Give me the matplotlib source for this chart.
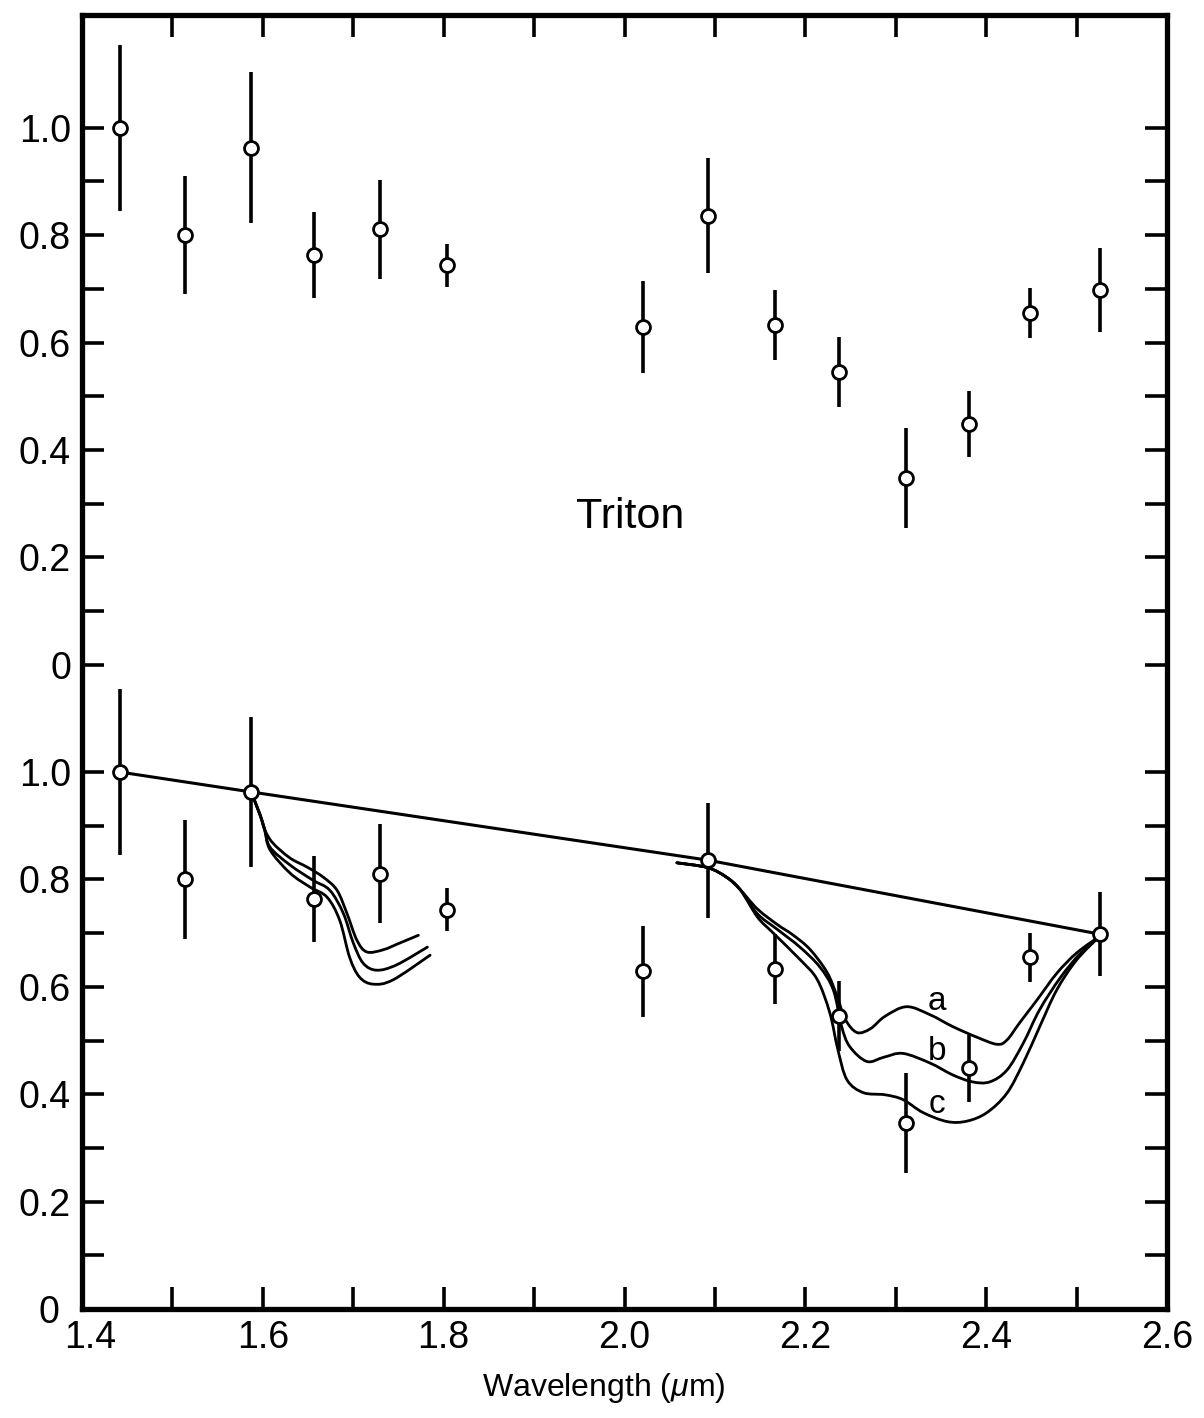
import numpy as np
import matplotlib
matplotlib.use("Agg")
import matplotlib.pyplot as plt
from matplotlib.path import Path
from matplotlib.patches import PathPatch
from matplotlib.transforms import ScaledTranslation

# ---------------- data ----------------
wavelength = [1.442, 1.514, 1.587, 1.657, 1.730, 1.804, 2.020, 2.092,
              2.166, 2.237, 2.311, 2.381, 2.448, 2.526]
albedo = [1.00, 0.80, 0.963, 0.763, 0.811, 0.744, 0.629, 0.836,
          0.633, 0.545, 0.347, 0.448, 0.655, 0.698]
albedo_err = [0.155, 0.11, 0.14, 0.08, 0.092, 0.04, 0.085, 0.107,
              0.065, 0.065, 0.093, 0.062, 0.046, 0.078]
upper_offset = 1.2

continuum_idx = [0, 2, 7, 13]

# H-band model curves (a, b, c)
h_common_x = [1.587, 1.597, 1.602]
h_common_y = [0.963, 0.920, 0.893]
h_a_x = [1.611, 1.630, 1.649, 1.667, 1.682, 1.693, 1.704, 1.715, 1.733, 1.752, 1.772]
h_a_y = [0.868, 0.840, 0.823, 0.804, 0.780, 0.737, 0.687, 0.665, 0.669, 0.682, 0.696]
h_b_x = [1.608, 1.630, 1.655, 1.674, 1.689, 1.700, 1.711, 1.726, 1.748, 1.782]
h_b_y = [0.860, 0.827, 0.799, 0.780, 0.737, 0.682, 0.644, 0.631, 0.641, 0.674]
h_c_x = [1.608, 1.630, 1.652, 1.671, 1.685, 1.696, 1.707, 1.722, 1.744, 1.785]
h_c_y = [0.855, 0.812, 0.786, 0.767, 0.724, 0.655, 0.618, 0.605, 0.613, 0.659]

# K-band model curves (a, b, c)
k_common_x = [2.058, 2.092, 2.113, 2.128]
k_common_y = [0.831, 0.822, 0.804, 0.781]
k_a_x = [2.147, 2.169, 2.186, 2.205, 2.224, 2.235, 2.244, 2.257, 2.272, 2.288,
         2.312, 2.338, 2.363, 2.390, 2.412, 2.423, 2.437, 2.456, 2.478, 2.500, 2.526]
k_a_y = [0.745, 0.716, 0.697, 0.670, 0.627, 0.583, 0.540, 0.515, 0.522, 0.545,
         0.563, 0.548, 0.526, 0.506, 0.493, 0.501, 0.533, 0.575, 0.625, 0.663, 0.695]
k_b_x = [2.147, 2.169, 2.194, 2.216, 2.231, 2.240, 2.249, 2.268, 2.287, 2.308,
         2.338, 2.363, 2.385, 2.404, 2.423, 2.441, 2.459, 2.482, 2.504, 2.526]
k_b_y = [0.736, 0.707, 0.674, 0.637, 0.594, 0.527, 0.489, 0.461, 0.469, 0.476,
         0.458, 0.436, 0.423, 0.423, 0.445, 0.495, 0.557, 0.617, 0.662, 0.695]
k_c_x = [2.147, 2.164, 2.194, 2.213, 2.227, 2.236, 2.246, 2.264, 2.288, 2.308,
         2.330, 2.357, 2.379, 2.401, 2.423, 2.441, 2.459, 2.478, 2.500, 2.526]
k_c_y = [0.730, 0.701, 0.651, 0.614, 0.552, 0.483, 0.427, 0.403, 0.399, 0.390,
         0.366, 0.349, 0.350, 0.366, 0.402, 0.458, 0.525, 0.594, 0.650, 0.695]

curve_labels = ["a", "b", "c"]
curve_label_pos = [(2.346, 0.572), (2.346, 0.480), (2.346, 0.381)]

x_ticks_major = [1.4, 1.6, 1.8, 2.0, 2.2, 2.4, 2.6]
x_tick_labels = ["1.4", "1.6", "1.8", "2.0", "2.2", "2.4", "2.6"]
x_ticks_minor = [1.5, 1.7, 1.9, 2.1, 2.3, 2.5]
y_ticks = [0.0, 0.1, 0.2, 0.3, 0.4, 0.5, 0.6, 0.7, 0.8, 0.9, 1.0,
           1.2, 1.3, 1.4, 1.5, 1.6, 1.7, 1.8, 1.9, 2.0, 2.1, 2.2]
y_tick_labels = ["0", "", "0.2", "", "0.4", "", "0.6", "", "0.8", "", "1.0",
                 "0", "", "0.2", "", "0.4", "", "0.6", "", "0.8", "", "1.0"]


def smooth_path(xs, ys):
    """Smooth cubic (Catmull-Rom style) path passing through the read points."""
    p = np.column_stack([xs, ys]).astype(float)
    ext = np.vstack([p[0], p, p[-1]])
    verts = [p[0]]
    codes = [Path.MOVETO]
    for i in range(len(p) - 1):
        p0, p1, p2, p3 = ext[i], ext[i + 1], ext[i + 2], ext[i + 3]
        c1 = p1 + (p2 - p0) / 6.0
        c2 = p2 - (p3 - p1) / 6.0
        verts += [c1, c2, p2]
        codes += [Path.CURVE4] * 3
    return Path(verts, codes)


# ---------------- plot ----------------
plt.rcParams["mathtext.fontset"] = "custom"
plt.rcParams["mathtext.rm"] = "Liberation Sans"
plt.rcParams["mathtext.it"] = "Liberation Sans:italic"

W, H = 1204, 1418
fig = plt.figure(figsize=(W / 100, H / 100), dpi=100)
ax = fig.add_axes([82 / W, 109 / H, (1167 - 82) / W, (1309 - 15) / H])
ax.set_xlim(1.4, 2.6)
ax.set_ylim(0, 2.41)

lw_curve = 2.0
# continuum line
ax.plot([wavelength[i] for i in continuum_idx], [albedo[i] for i in continuum_idx],
        color="black", lw=2.2, zorder=3)

for cx, cy, curves in [
    (h_common_x, h_common_y, [(h_a_x, h_a_y), (h_b_x, h_b_y), (h_c_x, h_c_y)]),
    (k_common_x, k_common_y, [(k_a_x, k_a_y), (k_b_x, k_b_y), (k_c_x, k_c_y)]),
]:
    for xs, ys in curves:
        path = smooth_path(cx + xs, cy + ys)
        ax.add_patch(PathPatch(path, facecolor="none", edgecolor="black",
                               lw=lw_curve, zorder=3, capstyle="round"))

# data points, both panels
for off in (0.0, upper_offset):
    ax.errorbar(wavelength, [a + off for a in albedo], yerr=albedo_err, fmt="o",
                mfc="white", mec="black", ms=10, mew=2.0, ecolor="black",
                elinewidth=2.6, capsize=0, zorder=5)

for lab, (lx, ly) in zip(curve_labels, curve_label_pos):
    ax.text(lx, ly, lab, fontsize=24, family=["Liberation Sans", "DejaVu Sans"],
            ha="center", va="center", zorder=6)

ax.text(2.006, 1.475, "Triton", fontsize=31, family=["Liberation Sans", "DejaVu Sans"],
        ha="center", va="center")

# axes styling
tick_font = ["Liberation Sans Narrow", "Liberation Sans", "DejaVu Sans"]
ax.set_xticks(x_ticks_major)
ax.set_xticklabels(x_tick_labels, family=tick_font, fontsize=27)
ax.set_xticks(x_ticks_minor, minor=True)
ax.set_yticks(y_ticks)
ax.set_yticklabels(y_tick_labels, family=tick_font, fontsize=27)
ax.tick_params(which="both", direction="in", length=16, width=2.6,
               top=True, right=True, color="black")
ax.tick_params(axis="x", pad=8)
ax.tick_params(axis="y", pad=8)
for sp in ax.spines.values():
    sp.set_linewidth(3.8)

# nudge the two corner labels apart, as in the original
ylab0 = ax.get_yticklabels()[0]
ylab0.set_transform(ylab0.get_transform() + ScaledTranslation(-12 / 100, 0, fig.dpi_scale_trans))
xlab0 = ax.get_xticklabels()[0]
xlab0.set_transform(xlab0.get_transform() + ScaledTranslation(8 / 100, 0, fig.dpi_scale_trans))

ax.set_xlabel("Wavelength ($\\mu$m)", fontsize=23,
              family=["Liberation Sans", "DejaVu Sans"])
ax.xaxis.set_label_coords((604 - 82) / 1085, -0.048)

fig.savefig("out.png", dpi=100, facecolor="white")
